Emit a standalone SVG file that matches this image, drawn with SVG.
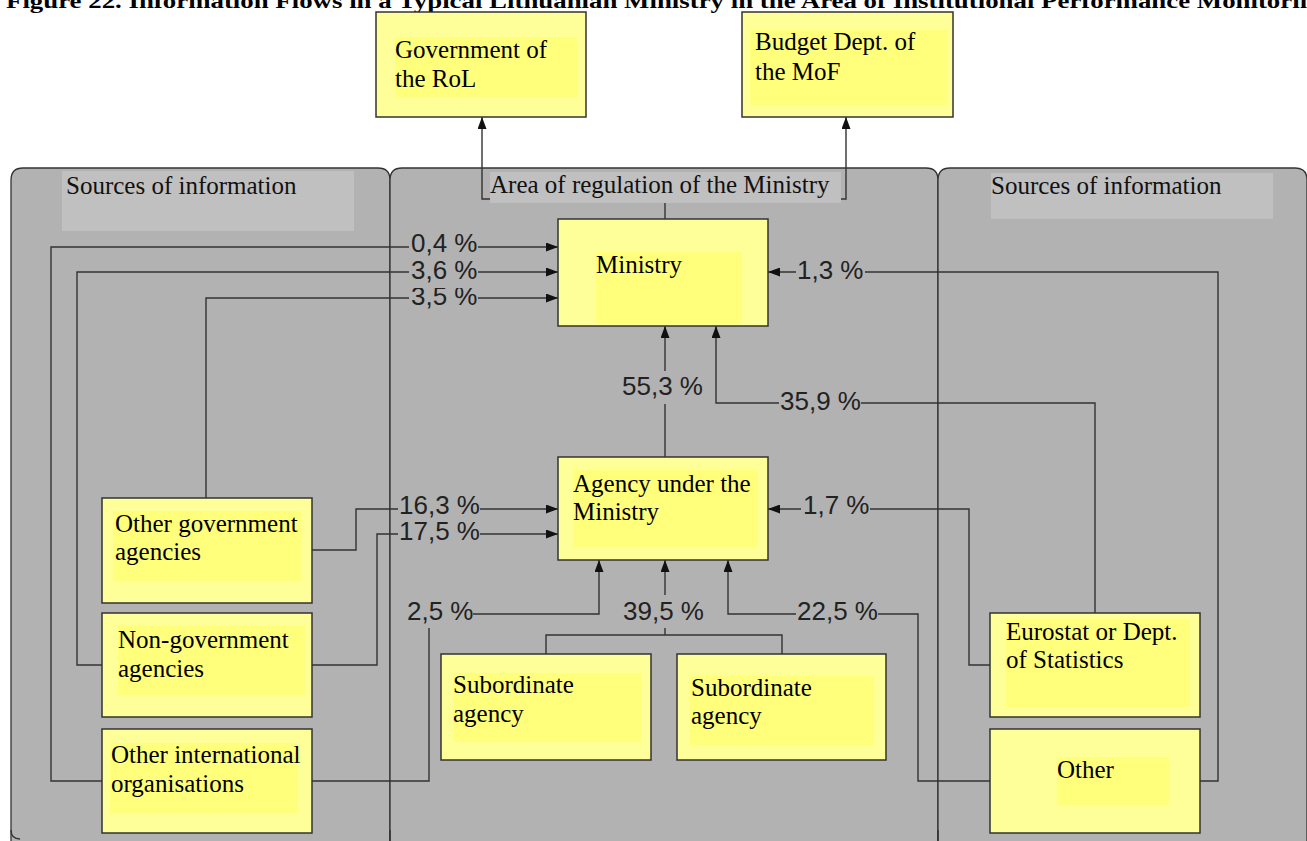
<svg xmlns="http://www.w3.org/2000/svg" width="1307" height="841" viewBox="0 0 1307 841">
  <style>
    .title { font-family: "Liberation Serif", "Times New Roman", serif; font-weight: bold; font-size: 22px; fill: #000; }
    .panel { fill: #b2b2b2; stroke: #333; stroke-width: 1.3; }
    .hdr { fill: #c0c0c0; }
    .hdrtxt { font-family: "Liberation Serif", "Times New Roman", serif; font-size: 25px; fill: #111; }
    .box { fill: #ffff99; stroke: #333; stroke-width: 1.5; }
    .inner { fill: #ffff7c; }
    .ntxt { font-family: "Liberation Serif", "Times New Roman", serif; font-size: 25px; fill: #000; }
    .conn { fill: none; stroke: #333; stroke-width: 1.4; }
    .arr { fill: none; stroke: #333; stroke-width: 1.4; marker-end: url(#head); }
    .lblbg { fill: #b2b2b2; }
    .lbl { font-family: "Liberation Sans", Arial, sans-serif; font-size: 26px; fill: #222; }
  </style>
  <defs>
    <marker id="head" viewBox="0 0 12 9" refX="12" refY="4.5" markerWidth="12" markerHeight="9" markerUnits="userSpaceOnUse" orient="auto">
      <path d="M0,0 L12,4.5 L0,9 Z" fill="#111"/>
    </marker>
  </defs>

  <rect x="0" y="0" width="1307" height="841" fill="#fff"/>

  <text class="title" x="6" y="8" textLength="1322" lengthAdjust="spacingAndGlyphs">Figure 22. Information Flows in a Typical Lithuanian Ministry in the Area of Institutional Performance Monitoring</text>

  <!-- three swim-lane panels -->
  <g id="panels">
    <path class="panel" d="M11,846 V180 Q11,168 23,168 H378 Q390,168 390,180 V846 Z"/>
    <path class="panel" d="M390,846 V180 Q390,168 402,168 H926 Q938,168 938,180 V846 Z"/>
    <path class="panel" d="M938,846 V180 Q938,168 950,168 H1295 Q1307,168 1307,180 V846 Z"/>
    <path class="conn" d="M11,830 Q11,839 20,839 M390,830 V841 M938,830 V841"/>
  </g>

  <g id="panel-headers">
    <rect class="hdr" x="62" y="171" width="292" height="60"/>
    <text class="hdrtxt" x="66" y="194">Sources of information</text>
    <rect class="hdr" x="490" y="172" width="351" height="31"/>
    <text class="hdrtxt" x="490" y="193">Area of regulation of the Ministry</text>
    <rect class="hdr" x="991" y="173" width="282" height="46"/>
    <text class="hdrtxt" x="991" y="194">Sources of information</text>
  </g>

  <!-- connectors -->
  <g id="connectors">
    <path class="arr" d="M490,199 H482 V117"/>
    <path class="arr" d="M841,199 H846 V117"/>
    <path class="conn" d="M665,219 V203"/>

    <path class="arr" d="M102,781 H51 V247 H558"/>
    <path class="arr" d="M102,665 H77 V272 H558"/>
    <path class="arr" d="M206,498 V298 H558"/>
    <path class="arr" d="M1200,781 H1218 V272 H768"/>

    <path class="arr" d="M665,457 V326"/>
    <path class="arr" d="M1095,613 V403 H716 V326"/>

    <path class="arr" d="M312,550 H356 V509 H558"/>
    <path class="arr" d="M312,665 H377 V534 H558"/>
    <path class="arr" d="M990,665 H969 V509 H768"/>

    <path class="arr" d="M312,781 H429 V614 H599 V560"/>
    <path class="conn" d="M546,654 V635 H782 V654"/>
    <path class="arr" d="M665,635 V560"/>
    <path class="arr" d="M990,781 H918 V614 H728 V560"/>
  </g>

  <!-- connector labels -->
  <g id="labels">
    <rect class="lblbg" x="409" y="230" width="69" height="28"/>
    <text class="lbl" x="411" y="252">0,4 %</text>
    <rect class="lblbg" x="409" y="284" width="69" height="24"/>
    <text class="lbl" x="411" y="305">3,5 %</text>
    <rect class="lblbg" x="409" y="256" width="69" height="32"/>
    <text class="lbl" x="411" y="279">3,6 %</text>
    <rect class="lblbg" x="796" y="256" width="69" height="28"/>
    <text class="lbl" x="797" y="279">1,3 %</text>

    <rect class="lblbg" x="620" y="371" width="86" height="33"/>
    <text class="lbl" x="622" y="395">55,3 %</text>
    <rect class="lblbg" x="779" y="388" width="82" height="28"/>
    <text class="lbl" x="780" y="410">35,9 %</text>

    <rect class="lblbg" x="398" y="492" width="82" height="27"/>
    <text class="lbl" x="399" y="514">16,3 %</text>
    <rect class="lblbg" x="398" y="519" width="82" height="26"/>
    <text class="lbl" x="399" y="540">17,5 %</text>
    <rect class="lblbg" x="801" y="492" width="69" height="27"/>
    <text class="lbl" x="803" y="514">1,7 %</text>

    <rect class="lblbg" x="405" y="598" width="68" height="30"/>
    <text class="lbl" x="407" y="620">2,5 %</text>
    <rect class="lblbg" x="621" y="595" width="86" height="33"/>
    <text class="lbl" x="623" y="620">39,5 %</text>
    <rect class="lblbg" x="796" y="598" width="82" height="28"/>
    <text class="lbl" x="797" y="620">22,5 %</text>
  </g>

  <!-- nodes -->
  <g id="government">
    <rect class="box" x="376" y="12" width="210" height="105"/>
    <rect class="inner" x="395" y="37" width="182" height="60"/>
    <text class="ntxt" x="395" y="58">Government of</text>
    <text class="ntxt" x="395" y="87">the RoL</text>
  </g>
  <g id="budget-dept">
    <rect class="box" x="742" y="12" width="211" height="105"/>
    <rect class="inner" x="750" y="30" width="198" height="75"/>
    <text class="ntxt" x="755" y="50">Budget Dept. of</text>
    <text class="ntxt" x="755" y="80">the MoF</text>
  </g>
  <g id="ministry">
    <rect class="box" x="558" y="219" width="210" height="107"/>
    <rect class="inner" x="596" y="252" width="146" height="71"/>
    <text class="ntxt" x="596" y="273">Ministry</text>
  </g>
  <g id="agency">
    <rect class="box" x="558" y="457" width="210" height="103"/>
    <rect class="inner" x="573" y="470" width="185" height="77"/>
    <text class="ntxt" x="573" y="492">Agency under the</text>
    <text class="ntxt" x="573" y="520">Ministry</text>
  </g>
  <g id="other-government-agencies">
    <rect class="box" x="102" y="498" width="210" height="105"/>
    <rect class="inner" x="113" y="511" width="188" height="70"/>
    <text class="ntxt" x="115" y="532">Other government</text>
    <text class="ntxt" x="115" y="560">agencies</text>
  </g>
  <g id="non-government-agencies">
    <rect class="box" x="102" y="613" width="210" height="104"/>
    <rect class="inner" x="118" y="626" width="187" height="69"/>
    <text class="ntxt" x="118" y="648">Non-government</text>
    <text class="ntxt" x="118" y="677">agencies</text>
  </g>
  <g id="other-international">
    <rect class="box" x="102" y="729" width="210" height="104"/>
    <rect class="inner" x="110" y="743" width="188" height="70"/>
    <text class="ntxt" x="111" y="763">Other international</text>
    <text class="ntxt" x="111" y="792">organisations</text>
  </g>
  <g id="subordinate-1">
    <rect class="box" x="441" y="654" width="210" height="106"/>
    <rect class="inner" x="453" y="673" width="188" height="69"/>
    <text class="ntxt" x="453" y="693">Subordinate</text>
    <text class="ntxt" x="453" y="722">agency</text>
  </g>
  <g id="subordinate-2">
    <rect class="box" x="677" y="654" width="209" height="106"/>
    <rect class="inner" x="690" y="676" width="184" height="69"/>
    <text class="ntxt" x="691" y="696">Subordinate</text>
    <text class="ntxt" x="691" y="724">agency</text>
  </g>
  <g id="eurostat">
    <rect class="box" x="990" y="613" width="210" height="104"/>
    <rect class="inner" x="1006" y="620" width="184" height="87"/>
    <text class="ntxt" x="1006" y="640">Eurostat or Dept.</text>
    <text class="ntxt" x="1006" y="668">of Statistics</text>
  </g>
  <g id="other">
    <rect class="box" x="990" y="729" width="210" height="104"/>
    <rect class="inner" x="1057" y="757" width="112" height="48"/>
    <text class="ntxt" x="1057" y="778">Other</text>
  </g>
</svg>
